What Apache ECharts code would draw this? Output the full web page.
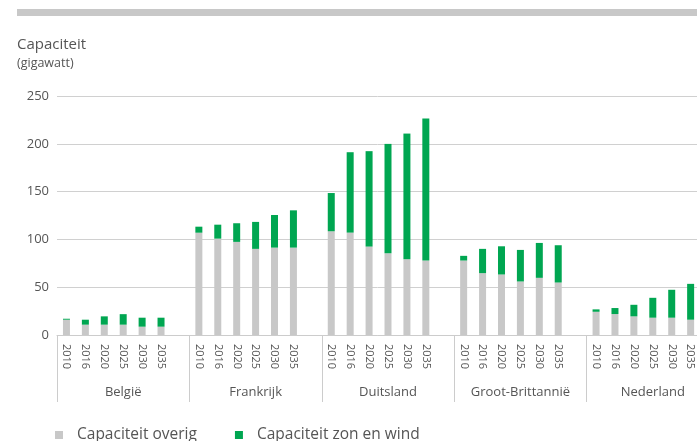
<!DOCTYPE html>
<html>
<head>
<meta charset="utf-8">
<script src="https://cdn.jsdelivr.net/npm/echarts@6/dist/echarts.min.js"></script>
<style>
html,body{margin:0;padding:0;background:#fff;}
#chart{width:697px;height:441px;}
</style>
</head>
<body>
<div id="chart"></div>
<script>
const countries = ['België', 'Frankrijk', 'Duitsland', 'Groot-Brittannië', 'Nederland'];
const years = ['2010', '2016', '2020', '2025', '2030', '2035'];
const overig = [
  [16, 10.8, 10.8, 10.8, 8.7, 8.7],
  [107, 100.8, 97.4, 90.1, 91.4, 91.4],
  [108.5, 107.1, 92.5, 85.5, 79.3, 77.9],
  [77.9, 64.7, 63.3, 56.0, 59.8, 54.9],
  [24.3, 21.9, 19.5, 18.1, 18.1, 16.0]
];
const zonWind = [
  [1, 5.2, 8.7, 11, 9.4, 9.4],
  [6.3, 14.6, 19.5, 28.2, 34.1, 39],
  [40, 84.1, 99.8, 114.4, 131.4, 148.5],
  [4.9, 25.4, 29.5, 33.0, 36.5, 39.0],
  [2.5, 6.3, 12.1, 20.8, 29.2, 37.5]
];
const yTicks = [0, 50, 100, 150, 200, 250];

// Build flat category axis: 6 years + 1 empty slot per country
const cats = [], greyData = [], greenData = [];
countries.forEach((c, i) => {
  years.forEach((y, j) => {
    cats.push(y);
    greyData.push(overig[i][j]);
    greenData.push(zonWind[i][j]);
  });
  cats.push('');
  greyData.push('-');
  greenData.push('-');
});

const FONT = 'Open Sans';
const TXT = '#555555';
const chart = echarts.init(document.getElementById('chart'), null, {renderer: 'canvas'});
chart.setOption({
  animation: false,
  textStyle: {fontFamily: FONT},
  graphic: [{
    type: 'rect', left: 17, top: 9,
    shape: {width: 680, height: 7},
    style: {fill: '#c8c8c8'}
  }],
  title: {
    text: 'Capaciteit', subtext: '(gigawatt)',
    left: 12, top: 32, itemGap: 5,
    textStyle: {fontFamily: FONT, fontSize: 15, fontWeight: 'normal', color: TXT},
    subtextStyle: {fontFamily: FONT, fontSize: 12.5, color: TXT}
  },
  legend: {
    left: 50, top: 422,
    icon: 'rect', itemWidth: 8, itemHeight: 8, itemGap: 38,
    textStyle: {fontFamily: FONT, fontSize: 15.5, color: TXT, padding: [0, 0, 0, 9]},
    data: ['Capaciteit overig', 'Capaciteit zon en wind']
  },
  grid: {left: 57, top: 96, width: 662, height: 239, containLabel: false, outerBoundsMode: 'none'},
  xAxis: [{
    type: 'category', data: cats, position: 'bottom',
    axisLine: {show: true, lineStyle: {color: '#cccccc', width: 1}},
    axisTick: {show: false},
    axisLabel: {interval: 0, rotate: -90, fontSize: 11, color: TXT, margin: 9, fontFamily: FONT}
  }, {
    type: 'category', data: countries, position: 'bottom',
    axisLine: {show: false},
    axisTick: {show: true, length: 67, lineStyle: {color: '#cccccc', width: 1}},
    axisLabel: {interval: 0, fontSize: 13, color: TXT, margin: 51, fontFamily: FONT},
    splitLine: {show: false}
  }],
  yAxis: {
    type: 'value', min: yTicks[0], max: yTicks[yTicks.length - 1], interval: 50,
    axisLine: {show: false}, axisTick: {show: false},
    axisLabel: {fontSize: 13, color: TXT, margin: 8, fontFamily: FONT},
    splitLine: {lineStyle: {color: '#d0d0d0', width: 1}}
  },
  series: [{
    name: 'Capaciteit overig', type: 'bar', stack: 'cap', barWidth: 7,
    xAxisIndex: 0, data: greyData,
    itemStyle: {color: '#c8c8c8'}
  }, {
    name: 'Capaciteit zon en wind', type: 'bar', stack: 'cap', barWidth: 7,
    xAxisIndex: 0, data: greenData,
    itemStyle: {color: '#00a651'}
  }]
});
</script>
</body>
</html>
